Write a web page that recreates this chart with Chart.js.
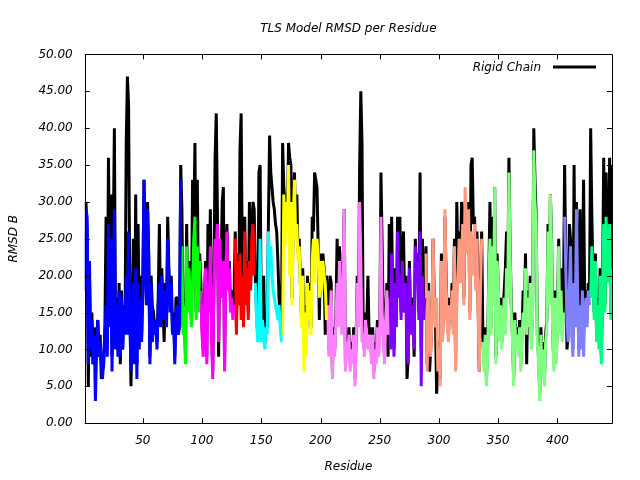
<!DOCTYPE html>
<html><head><meta charset="utf-8">
<script src="https://cdn.jsdelivr.net/npm/chart.js@4.4.0/dist/chart.umd.min.js"></script>
<style>html,body{margin:0;padding:0;background:#fff;}canvas{display:block;}</style>
</head><body>
<canvas id="c" width="640" height="480"></canvas>
<script>
// Rigid chain RMSD B, residues 1..446
const rigidChain = [
29,30,26,5,20,9,15,8,13,9,11,14,10,12,6,7,8,13,28,10,36,20,31,9,24,40,12,17,10,19,8,18,10,16,13,38,47,43,18,5,14,25,10,31,8,27,13,
20,12,19,33,25,17,30,23,9,20,16,15,13,14,11,17,27,14,21,16,11,19,14,28,21,16,20,13,15,9,17,17,13,14,35,
29,13,17,9,27,16,22,18,14,33,26,38,15,33,16,23,
19,13,10,17,22,9,27,16,29,13,7,19,36,42,28,9,24,20,30,32,8,21,27,19,22,16,18,15,17,
26,13,23,17,37,42,21,14,28,17,22,15,30,19,26,30,29,
20,15,12,34,35,14,15,20,11,14,13,27,39,34,32,30,29,27,26,22,17,14,12,
38,32,30,31,27,38,36,35,17,29,34,26,31,23,25,19,14,21,11,16,10,20,15,19,13,28,26,34,33,32,24,14,23,19,23,21,12,20,
17,10,20,19,7,13,10,15,25,14,24,17,13,21,29,8,12,10,13,8,11,9,13,6,11,20,14,35,45,38,12,10,15,13,20,12,13,9,13,7,11,9,14,10,12,34,24,13,9,15,19,9,
27,11,28,16,10,21,14,28,18,28,15,23,26,16,20,6,9,22,15,13,17,9,25,20,23,15,34,10,25,15,19,
24,8,19,7,10,15,25,17,14,4,8,11,6,23,12,16,28,20,14,12,17,15,19,13,25,8,30,21,26,20,30,28,17,30,29,24,30,15,35,36,27,28,19,26,16,7,19,26,
12,8,13,6,10,20,30,13,28,17,32,9,23,19,12,17,11,14,18,21,26,18,36,24,16,12,6,15,11,13,10,14,8,12,18,14,23,8,18,14,20,11,16,40,33,28,12,9,4,13,7,11,6,12,14,27,17,31,25,12,8,18,9,15,25,13,21,12,16,
35,22,10,12,27,25,20,10,35,14,30,19,10,29,11,19,33,16,18,14,19,17,
40,28,20,15,23,12,17,11,21,9,18,36,16,34,23,20,36,15,35
];

// TLS groups: first residue of each group and its RMSD B values
const groupStart = [1, 83, 99, 128, 145, 168, 206, 258, 289, 337, 406, 428];
const tlsGroup1 = [18,29,28,8,22,10,14,8,12,3,10,14,9,11,8,6,9,12,16,9,27,13,25,7,18,29,10,16,9,18,9,17,10,15,12,20,12,26,15,7,12,19,8,21,6,19,10,
  17,11,18,33,24,16,29,22,8,19,11,14,12,13,10,16,19,13,20,15,14,18,13,25,20,15,19,12,14,8,15,16,12,13,33];
const tlsGroup2 = [24,12,16,8,24,15,21,17,13,19,25,28,14,24,15,22];
const tlsGroup3 = [18,12,9,16,21,8,19,15,24,12,6,18,25,22,27,11,25,19,17,22,7,20,26,18,21,15,17,14,16];
const tlsGroup4 = [25,12,22,16,23,14,20,13,26,16,21,14,22,18,25,27,20];
const tlsGroup5 = [19,14,11,13,25,11,14,12,10,13,12,26,22,24,20,18,17,16,15,14,16,13,11];
const tlsGroup6 = [12,31,24,30,26,35,20,30,16,28,33,25,27,22,24,18,13,20,7,15,9,19,14,18,12,22,25,19,24,25,23,17,22,18,22,20,19,14];
const tlsGroup7 = [16,9,14,18,6,12,9,14,19,13,22,16,12,20,29,7,11,9,12,7,10,8,12,5,10,19,13,30,22,11,12,9,14,12,10,11,12,8,
  12,6,10,8,13,9,11,28,15,12,8,14,18,12];
const tlsGroup8 = [17,10,23,15,9,19,13,26,17,20,14,22,17,15,19,10,8,21,14,12,16,10,24,19,22,14,26,5,20,14,17];
const tlsGroup9 = [23,7,18,12,9,14,25,16,13,17,7,10,5,22,11,15,29,19,13,11,16,14,18,12,24,7,16,20,25,19,21,27,16,32,28,23,29,14,26,22,20,27,18,25,15,7,18,25];
const tlsGroup10 = [11,7,12,5,9,19,25,12,24,16,32,8,22,19,11,16,10,13,17,12,21,17,34,23,15,11,5,14,10,12,9,13,7,11,15,13,21,12,17,13,19,10,15,37,30,27,11,8,3,12,6,10,5,11,
  13,26,16,31,24,11,7,17,8,14,24,12,18,11,15];
const tlsGroup11 = [28,21,14,11,18,24,12,9,19,13,29,18,9,16,10,18,9,15,17,13,18,16];
const tlsGroup12 = [17,24,19,14,22,11,16,10,20,8,17,27,15,28,22,19,27,14,21];

const xTickValues = [50, 100, 150, 200, 250, 300, 350, 400];
const groupColors = ['#0000ff','#00ff00','#ff00ff','#ff0000','#00ffff','#ffff00','#ff80ff','#8000ff','#ff9980','#80ff80','#8080ff','#00ff80'];

const tlsGroups = [tlsGroup1,tlsGroup2,tlsGroup3,tlsGroup4,tlsGroup5,tlsGroup6,tlsGroup7,tlsGroup8,tlsGroup9,tlsGroup10,tlsGroup11,tlsGroup12];

const datasets = [{
  label: 'Rigid Chain',
  data: rigidChain.map((v, i) => ({x: i + 1, y: v})),
  borderColor: '#000000',
  order: 1
}];
tlsGroups.forEach((g, k) => {
  datasets.push({
    label: 'TLS group ' + (k + 1),
    data: g.map((v, i) => ({x: groupStart[k] + i, y: v})),
    borderColor: groupColors[k],
    order: 0
  });
});

const FONT = {family: 'DejaVu Sans', size: 12, style: 'italic', weight: 'normal'};

const framePlugin = {
  id: 'frame',
  afterDatasetsDraw(chart) {
    const {ctx, chartArea: a, scales: {x, y}} = chart;
    ctx.save();
    ctx.strokeStyle = '#000';
    ctx.lineWidth = 1;
    ctx.beginPath();
    ctx.rect(Math.round(a.left) + 0.5, Math.round(a.top) + 0.5, Math.round(a.right - a.left), Math.round(a.bottom - a.top));
    const tl = 5;
    for (let v = 0; v <= 50; v += 5) {
      const py = Math.round(y.getPixelForValue(v)) + 0.5;
      ctx.moveTo(a.left, py); ctx.lineTo(a.left + tl, py);
      ctx.moveTo(a.right, py); ctx.lineTo(a.right - tl, py);
    }
    xTickValues.forEach(v => {
      const px = Math.round(x.getPixelForValue(v)) + 0.5;
      ctx.moveTo(px, a.bottom); ctx.lineTo(px, a.bottom - tl);
      ctx.moveTo(px, a.top); ctx.lineTo(px, a.top + tl);
    });
    ctx.stroke();
    // legend
    const ly = Math.round(a.top + 13);
    const lx2 = a.right - 16, lx1 = lx2 - 43;
    ctx.lineWidth = 3;
    ctx.beginPath();
    ctx.moveTo(lx1, ly); ctx.lineTo(lx2, ly);
    ctx.stroke();
    ctx.fillStyle = '#000';
    ctx.font = 'italic 12px "DejaVu Sans"';
    ctx.textAlign = 'right';
    ctx.textBaseline = 'middle';
    ctx.fillText('Rigid Chain', lx1 - 12, ly + 1);
    ctx.restore();
  }
};

new Chart(document.getElementById('c'), {
  type: 'line',
  data: {datasets},
  plugins: [framePlugin],
  options: {
    responsive: false,
    animation: false,
    layout: {padding: {left: 7, right: 28, top: 0, bottom: 6}},
    elements: {
      point: {radius: 0},
      line: {borderWidth: 3, tension: 0, borderJoinStyle: 'bevel', fill: false}
    },
    plugins: {
      legend: {display: false},
      tooltip: {enabled: false},
      title: {
        display: true, text: 'TLS Model RMSD per Residue', color: '#000',
        font: FONT, padding: {top: 22, bottom: 18}, fullSize: false
      }
    },
    scales: {
      x: {
        type: 'linear', min: 1, max: 446,
        afterBuildTicks: s => { s.ticks = xTickValues.map(v => ({value: v})); },
        grid: {display: false, drawTicks: false},
        border: {display: false},
        ticks: {padding: 10, font: FONT, color: '#000', maxRotation: 0, autoSkip: false},
        title: {display: true, text: 'Residue', font: FONT, color: '#000', padding: {top: 2, bottom: 0}}
      },
      y: {
        min: 0, max: 50,
        grid: {display: false, drawTicks: false},
        border: {display: false},
        ticks: {stepSize: 5, padding: 12, font: FONT, color: '#000', callback: v => v.toFixed(2)},
        title: {display: true, text: 'RMSD B', font: FONT, color: '#000', padding: {top: 0, bottom: 5}}
      }
    }
  }
});
</script>
</body></html>
